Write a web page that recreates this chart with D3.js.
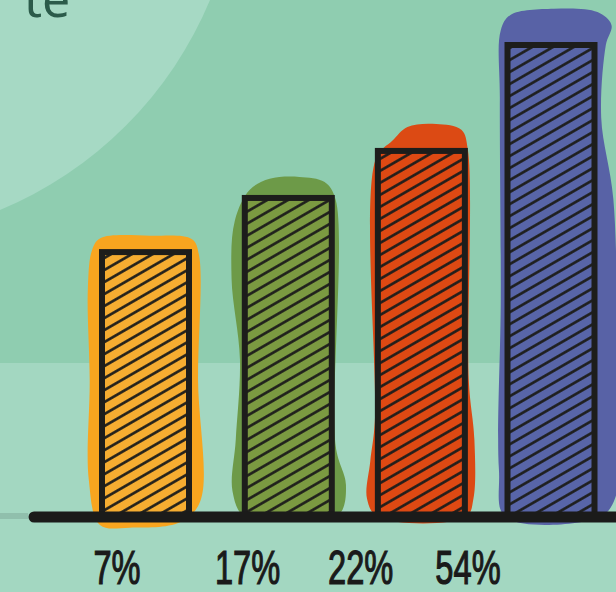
<!DOCTYPE html>
<html>
<head>
<meta charset="utf-8">
<script src="https://cdn.jsdelivr.net/npm/d3@7"></script>
<style>
  html, body { margin: 0; padding: 0; background: #8fcdb0; }
  svg { display: block; }
</style>
</head>
<body>
<svg id="chart" width="616" height="592"></svg>
<script>
// Данные графика
const categories = ["A", "B", "C", "D"];
const shares = [7, 17, 22, 54];               // подписи под столбцами, %
const labels = ["7%", "17%", "22%", "54%"];
const barLevels = [56.4, 67.8, 77.7, 100];    // высота столбца, % от самого высокого
const barColors = ["#f6ad31", "#7b9a41", "#de4913", "#5865a8"];
const blobColors = ["#f8a51f", "#6d9a48", "#dc4a14", "#5862a6"];

const svg = d3.select("#chart");
const width = +svg.attr("width");
const height = +svg.attr("height");
const baseY = 517;
const barW = 93;

// Фон: светлый круг сверху слева и светлая полоса снизу
svg.append("rect").attr("width", width).attr("height", height).attr("fill", "#8fcdb0");
svg.append("rect").attr("y", 363).attr("width", width).attr("height", height - 363).attr("fill", "#a3d7c1");
svg.append("circle").attr("cx", -150).attr("cy", -150).attr("r", 390).attr("fill", "#a6d9c4");

svg.append("text")
    .attr("x", 24).attr("y", 17)
    .attr("font-family", "Noto Sans")
    .attr("font-size", 50)
    .attr("fill", "#2b5b4a")
    .text("te");

// Штриховка
const defs = svg.append("defs");
defs.append("pattern")
    .attr("id", "hatch")
    .attr("patternUnits", "userSpaceOnUse")
    .attr("width", 10).attr("height", 10.4)
    .attr("patternTransform", "rotate(-30)")
    .append("line")
    .attr("x1", -1).attr("x2", 11)
    .attr("y1", 5.2).attr("y2", 5.2)
    .attr("stroke", "#1d1d1b")
    .attr("stroke-width", 2.6);

// Шкалы (снимок снят в лёгкой перспективе, поэтому шаг сжимается вправо)
const idx = d3.scalePoint().domain(categories).range([0, 3]);
const xBar = d3.scalePow().exponent(0.95).domain([0, 3]).range([145.5, 551]);
const xLabel = d3.scalePow().exponent(0.9).domain([0, 3]).range([117, 468]);
const y = d3.scaleLinear().domain([0, 100]).range([baseY, 42]);

// Контуры цветных пятен за столбцами: [доля ширины, доля высоты]
const blobShapes = [
    [[-0.075, 0.004], [0.01, -0.04], [0.55, -0.05], [1.0, -0.037], [1.075, 0.022], [1.065, 0.49],
     [1.09, 0.94], [0.87, 1.02], [0.33, 1.04], [0.01, 1.03], [-0.11, 0.86], [-0.1, 0.49], [-0.12, 0.15]],
    [[0.086, -0.016], [0.3, -0.05], [0.62, -0.056], [0.89, -0.04], [1.01, 0.016], [1.01, 0.78],
     [1.12, 0.9], [1.05, 0.99], [0.62, 1.01], [0.03, 1.0], [-0.1, 0.92], [-0.065, 0.76],
     [-0.02, 0.51], [-0.11, 0.26], [-0.075, 0.08]],
    [[0.19, -0.02], [0.35, -0.057], [0.66, -0.065], [0.93, -0.049], [1.0, 0.005], [1.01, 0.63],
     [1.07, 0.79], [1.06, 0.95], [0.98, 1.0], [0.03, 1.0], [-0.085, 0.95], [-0.05, 0.85],
     [0, 0.74], [0.01, 0.03]],
    [[-0.04, -0.025], [0.064, -0.057], [0.53, -0.07], [1.0, -0.063], [1.15, -0.036], [1.09, 0.006],
     [1.04, 0.16], [1.17, 0.33], [1.21, 0.65], [1.19, 0.96], [1.02, 1.0], [0.01, 1.0],
     [-0.06, 0.9], [-0.04, 0.54], [-0.05, 0.12]]
];

const bars = categories.map((c, i) => {
    const x0 = xBar(idx(c)) - barW / 2;
    const top = y(barLevels[i]);
    return { c, i, x0, top, h: baseY - top };
});

const blobLine = d3.line().curve(d3.curveCatmullRomClosed.alpha(0.5));

svg.append("g").selectAll("path")
    .data(bars)
    .join("path")
    .attr("d", d => blobLine(blobShapes[d.i].map(p => [d.x0 + p[0] * barW, d.top + p[1] * d.h])))
    .attr("fill", d => blobColors[d.i]);

const barG = svg.append("g").selectAll("g")
    .data(bars)
    .join("g");

barG.append("rect")
    .attr("x", d => d.x0 + 3).attr("y", d => d.top + 3)
    .attr("width", barW - 6).attr("height", d => d.h - 3)
    .attr("fill", d => barColors[d.i]);

barG.append("rect")
    .attr("x", d => d.x0 + 3).attr("y", d => d.top + 3)
    .attr("width", barW - 6).attr("height", d => d.h - 3)
    .attr("fill", "url(#hatch)")
    .attr("stroke", "#1d1d1b")
    .attr("stroke-width", 6);

// Базовая линия
svg.append("line")
    .attr("x1", 0).attr("x2", 28)
    .attr("y1", 516).attr("y2", 516)
    .attr("stroke", "#7fa898").attr("stroke-width", 6).attr("opacity", 0.5);
svg.append("line")
    .attr("x1", 34).attr("x2", width + 10)
    .attr("y1", baseY).attr("y2", baseY)
    .attr("stroke", "#1b1b1a")
    .attr("stroke-width", 11)
    .attr("stroke-linecap", "round");

// Подписи
svg.append("g").selectAll("text")
    .data(categories)
    .join("text")
    .attr("transform", (c) => `translate(${xLabel(idx(c))}, 584) scale(0.68, 1)`)
    .attr("text-anchor", "middle")
    .attr("font-family", "Liberation Sans, Arial, sans-serif")
    .attr("font-size", 48)
    .attr("fill", "#1a1a1a")
    .attr("stroke", "#1a1a1a")
    .attr("stroke-width", 1.2)
    .text((c, i) => labels[i]);
</script>
</body>
</html>
